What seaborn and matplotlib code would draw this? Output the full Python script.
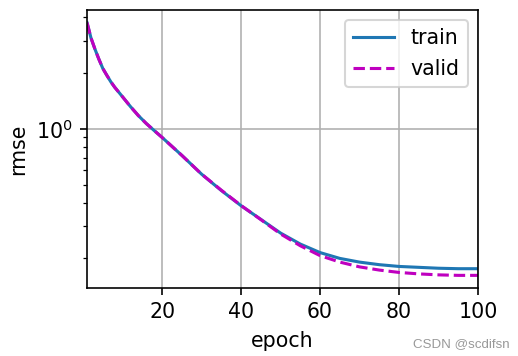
import pandas as pd
import seaborn as sns
import matplotlib.pyplot as plt

# Epochs (denser where the curve bends)
epochs = [1, 2, 3, 4, 5, 6, 7, 8, 10, 12, 14, 16, 18, 20, 25, 30, 35, 40,
          45, 50, 55, 60, 65, 70, 75, 80, 85, 90, 95, 100]

train_rmse = [3.75, 3.10, 2.70, 2.38, 2.12, 1.95, 1.80, 1.68, 1.49, 1.32,
              1.18, 1.07, 0.98, 0.90, 0.72, 0.57, 0.465, 0.385, 0.325,
              0.274, 0.239, 0.215, 0.200, 0.191, 0.185, 0.181, 0.179,
              0.177, 0.176, 0.176]

valid_rmse = [3.75, 3.10, 2.70, 2.38, 2.12, 1.95, 1.80, 1.68, 1.49, 1.32,
              1.18, 1.07, 0.98, 0.90, 0.72, 0.57, 0.467, 0.386, 0.324,
              0.271, 0.234, 0.207, 0.191, 0.180, 0.173, 0.168, 0.165,
              0.163, 0.162, 0.162]

df = pd.DataFrame({"epoch": epochs, "train": train_rmse, "valid": valid_rmse})

fig = plt.figure(figsize=(518 / 148, 356 / 148), dpi=148)
ax = fig.add_axes([0.168, 0.191, 0.755, 0.781])

sns.lineplot(data=df, x="epoch", y="train", ax=ax, color="#1f77b4",
             linewidth=1.5, label="train")
sns.lineplot(data=df, x="epoch", y="valid", ax=ax, color="m",
             linewidth=1.5, linestyle="--", label="valid")

ax.set_yscale("log")
ax.set_xlim(1, 100)
ax.set_xlabel("epoch")
ax.set_ylabel("rmse")
ax.grid(True)
ax.legend(loc="upper right")

# watermark
fig.text(0.798, 0.025, "CSDN @scdifsn", fontsize=6.5, color="#999999",
         family="Liberation Sans")

fig.savefig("out.png", dpi=148)
